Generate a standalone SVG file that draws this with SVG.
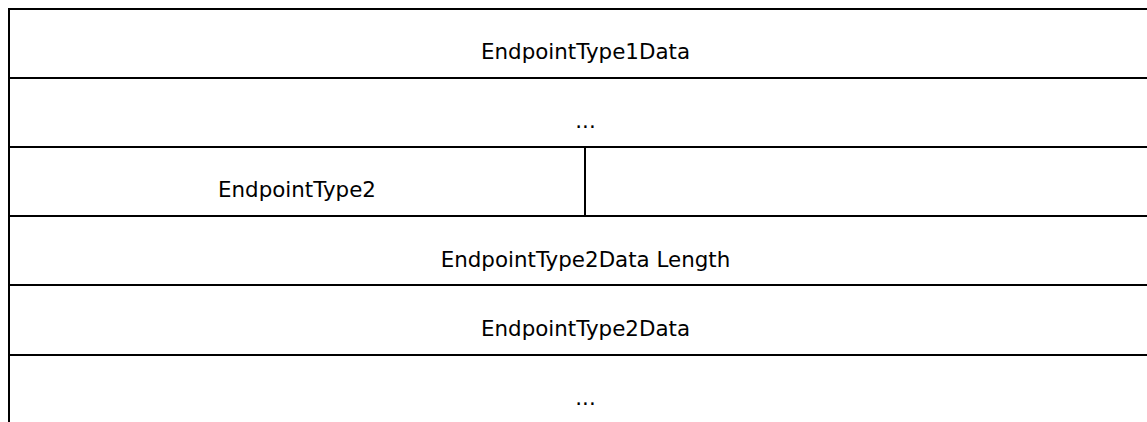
<svg xmlns="http://www.w3.org/2000/svg" width="1147" height="422" viewBox="0 0 1147 422">
<style>
.ln{stroke:#000;stroke-width:2;fill:none}
.t{font-family:Verdana,"DejaVu Sans",sans-serif;font-size:21.4px;fill:#000;text-anchor:middle}
</style>
<rect width="1147" height="422" fill="#fff"/>
<g id="grid">
<line class="ln" x1="8" y1="9" x2="1147" y2="9"/>
<line class="ln" x1="8" y1="78" x2="1147" y2="78"/>
<line class="ln" x1="8" y1="147" x2="1147" y2="147"/>
<line class="ln" x1="8" y1="216" x2="1147" y2="216"/>
<line class="ln" x1="8" y1="285" x2="1147" y2="285"/>
<line class="ln" x1="8" y1="355" x2="1147" y2="355"/>
<line class="ln" x1="9" y1="8" x2="9" y2="422"/>
<line class="ln" x1="585" y1="147" x2="585" y2="216"/>
</g>
<g id="row1"><text class="t" x="585.5" y="59">EndpointType1Data</text></g>
<g id="row2"><text class="t" x="585.5" y="128">...</text></g>
<g id="row3a"><text class="t" x="297" y="197">EndpointType2</text></g>
<g id="row3b"></g>
<g id="row4"><text class="t" x="585.5" y="266.5">EndpointType2Data Length</text></g>
<g id="row5"><text class="t" x="585.5" y="335.5">EndpointType2Data</text></g>
<g id="row6"><text class="t" x="585.5" y="404.5">...</text></g>
</svg>
